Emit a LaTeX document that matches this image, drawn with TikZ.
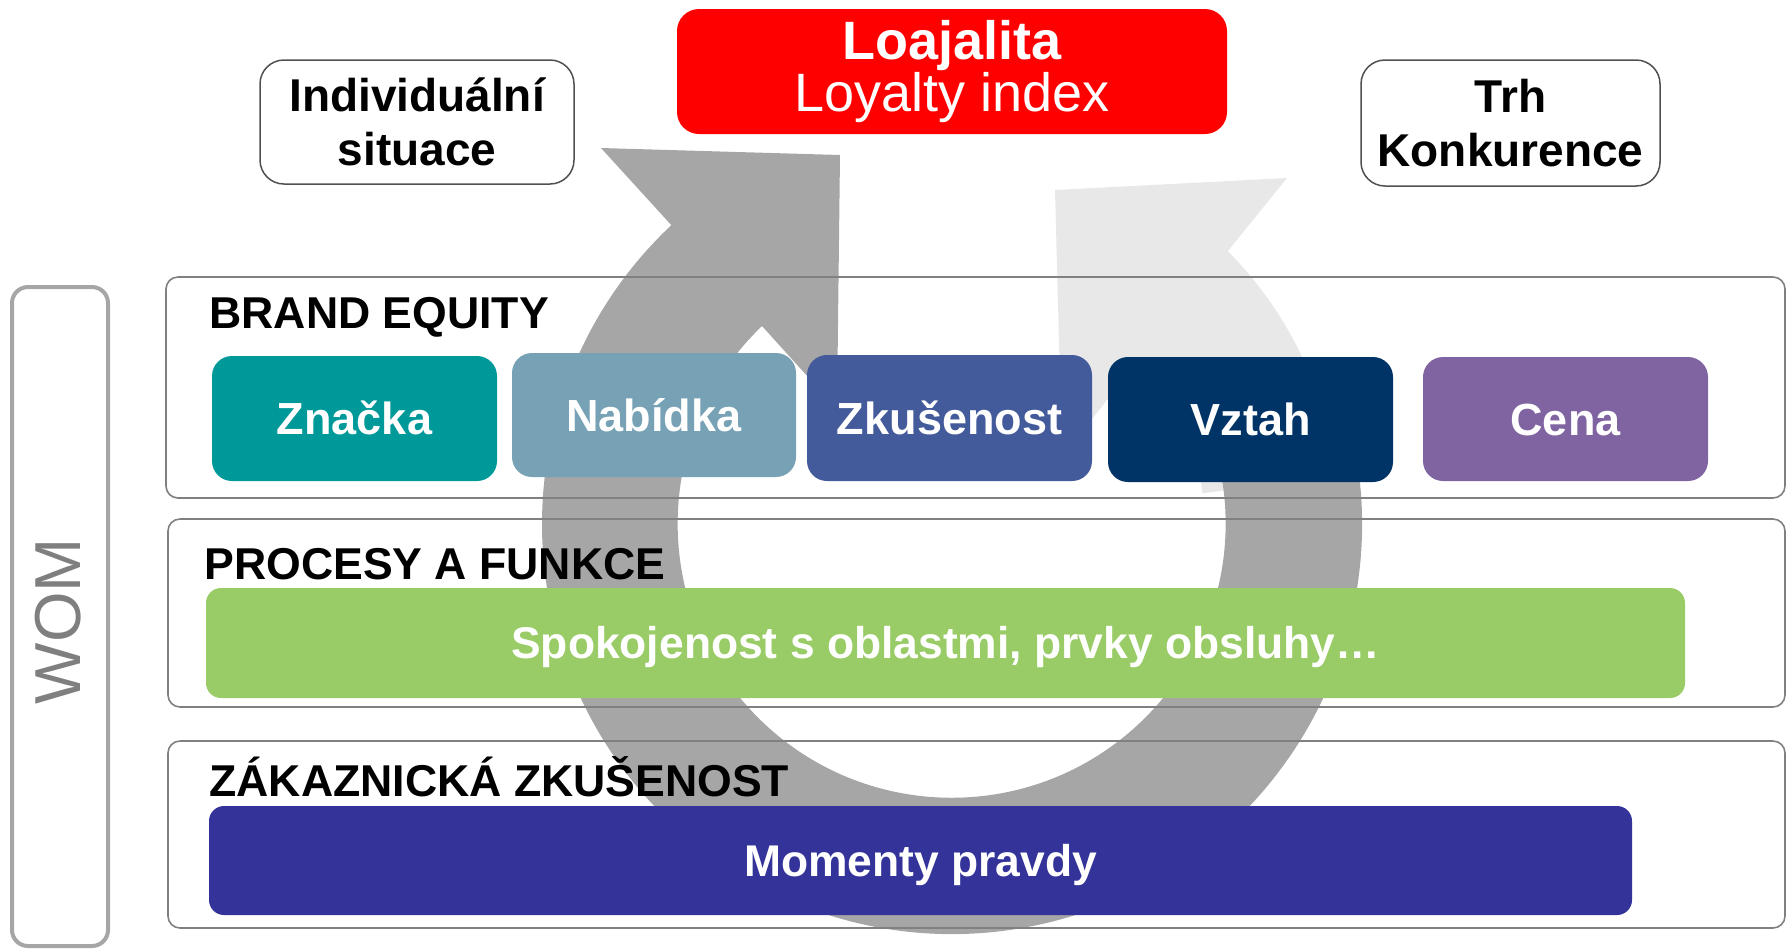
\documentclass[tikz,border=0pt]{standalone}
\usepackage{fontspec}
\setmainfont{Liberation Sans}
\usetikzlibrary{calc}
\definecolor{ringdark}{RGB}{166,166,166}
\definecolor{ringlight}{RGB}{232,232,232}
\definecolor{framegray}{RGB}{128,128,128}
\definecolor{boxline}{RGB}{80,80,80}
\definecolor{womline}{RGB}{166,166,166}
\definecolor{womtext}{RGB}{127,127,127}
\definecolor{cteal}{RGB}{0,153,153}
\definecolor{cnab}{RGB}{119,161,181}
\definecolor{czk}{RGB}{67,90,155}
\definecolor{cvz}{RGB}{0,51,102}
\definecolor{ccena}{RGB}{128,100,162}
\definecolor{cgreen}{RGB}{153,204,102}
\definecolor{cblue}{RGB}{51,51,153}
\definecolor{cred}{RGB}{255,0,0}
\begin{document}
\begin{tikzpicture}[x=0.5pt,y=-0.5pt,
  rowframe/.style={draw=framegray, line width=0.8pt, rounded corners=6pt, minimum width=808.5pt, inner sep=0pt},
  tile/.style={rounded corners=10pt, text=white, inner sep=0pt, text height=16.1pt, text depth=0pt,
    font=\fontsize{22.5}{27}\selectfont\bfseries, minimum width=142.5pt, minimum height=62.5pt},
  bar/.style={rounded corners=7.5pt, text=white, inner sep=0pt, text height=15.8pt, text depth=0pt,
    font=\fontsize{22.2}{26}\selectfont\bfseries, minimum height=55pt},
  rowlabel/.style={anchor=base west, inner sep=0pt, font=\fontsize{22.3}{26}\selectfont\bfseries},
  sidebox/.style={draw=boxline, fill=white, line width=0.75pt, rounded corners=12pt, align=center,
    inner sep=0pt, font=\fontsize{23}{27}\selectfont\bfseries},
]
\useasboundingbox (0,0) rectangle (1787,950);
\coordinate (c) at (952,524);

% light circular arrow (right, pointing up-left)
\fill[ringlight] ($(c)+(-7:388)$) arc[start angle=-7, end angle=-44.7, radius=388]
  -- (1287,178) -- (1055,190) -- (1062,457) -- (1141,357)
  arc[start angle=-41.5, end angle=-7, radius=252] -- cycle;

% dark circular arrow (around the bottom, pointing up-right)
\fill[ringdark] ($(c)+(-15:410)$) arc[start angle=-15, end angle=226.8, radius=410]
  -- (601,148) -- (840,155) -- (837,409) -- (762,326)
  arc[start angle=226.2, end angle=-15, radius=274] -- cycle;

% row frames
\node[rowframe, minimum width=809.5pt, minimum height=110.5pt] (fbe) at (975.5,387.5) {};
\node[rowframe, minimum height=94pt] (fpf) at (976.5,613) {};
\node[rowframe, minimum height=93.5pt] (fzz) at (976.5,834.5) {};

% row labels
\node[rowlabel] (lbe) at (209,328) {BRAND EQUITY};
\node[rowlabel] (lpf) at (204,579) {PROCESY A FUNKCE};
\node[rowlabel] (lzz) at (209,796) {ZÁKAZNICKÁ ZKUŠENOST};

% brand equity tiles
\node[tile, fill=cteal] (znacka) at (354.5,418.5) {Značka};
\node[tile, fill=cnab, minimum width=142pt, minimum height=62pt] (nabidka) at (654,415) {Nabídka};
\node[tile, fill=czk, minimum height=63pt] (zkus) at (949.5,418) {Zkušenost};
\node[tile, fill=cvz] (vztah) at (1250.5,419.5) {Vztah};
\node[tile, fill=ccena, minimum height=62pt] (cena) at (1565.5,419) {Cena};

% bars
\node[bar, fill=cgreen, minimum width=739.5pt] (spok) at (945.5,643) {Spokojenost s oblastmi, prvky obsluhy…};
\node[bar, fill=cblue, minimum width=711.5pt, minimum height=54.5pt] (moment) at (920.5,860.5) {Momenty pravdy};

% top boxes
\node[fill=cred, rounded corners=11pt, text=white, align=center, inner sep=0pt,
  minimum width=275pt, minimum height=62.5pt, font=\fontsize{27}{26}\selectfont] (loaj) at (952,71.5)
  {{\bfseries Loajalita}\\Loyalty index};
\node[sidebox, minimum width=157pt, minimum height=62pt] (indiv) at (417,122) {Individuální\\situace};
\node[sidebox, minimum width=149.5pt, minimum height=63pt] (trh) at (1510.5,123) {Trh\\Konkurence};

% WOM
\node[draw=womline, line width=2pt, rounded corners=8pt, minimum width=48pt, minimum height=329.5pt, inner sep=0pt] (wombox) at (60,616.5) {};
\node[rotate=90, text=womtext, inner sep=0pt, font=\fontsize{32.5}{34}\selectfont] (wom) at (58,621) {WOM};
\end{tikzpicture}
\end{document}
